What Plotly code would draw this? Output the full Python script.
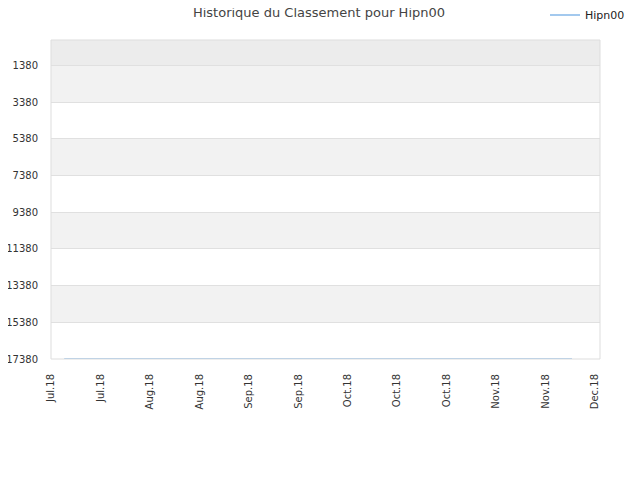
import plotly.graph_objects as go

# Data
dates = ["2018-07-07", "2018-07-21", "2018-08-04", "2018-08-18", "2018-09-01",
         "2018-09-15", "2018-09-29", "2018-10-13", "2018-10-27", "2018-11-10",
         "2018-11-24", "2018-12-08"]
ranks = [17380, 17380, 17380, 17380, 17380, 17380, 17380, 17380, 17380, 17380, 17380, 17380]

tick_dates = ["2018-07-03", "2018-07-18", "2018-08-02", "2018-08-17", "2018-09-01",
              "2018-09-16", "2018-10-01", "2018-10-16", "2018-10-31", "2018-11-15",
              "2018-11-30", "2018-12-15"]
tick_labels = ["Jul.18", "Jul.18", "Aug.18", "Aug.18", "Sep.18", "Sep.18",
               "Oct.18", "Oct.18", "Oct.18", "Nov.18", "Nov.18", "Dec.18"]
y_ticks = [1380, 3380, 5380, 7380, 9380, 11380, 13380, 15380, 17380]
band_edges = [0, 1380, 3380, 5380, 7380, 9380, 11380, 13380, 15380, 17380]
band_colors = ["#ececec", "#f2f2f2", "#ffffff", "#f2f2f2", "#ffffff",
               "#f2f2f2", "#ffffff", "#f2f2f2", "#ffffff"]

fig = go.Figure()
fig.add_trace(go.Scatter(x=dates, y=ranks, mode="lines", name="Hipn00",
                         line=dict(color="#a3c9ee", width=2), cliponaxis=False))

shapes = []
for i in range(len(band_colors)):
    shapes.append(dict(type="rect", xref="paper", yref="y", x0=0, x1=1,
                       y0=band_edges[i], y1=band_edges[i + 1],
                       fillcolor=band_colors[i], line=dict(width=0), layer="below"))
shapes.append(dict(type="rect", xref="paper", yref="paper", x0=0, x1=1, y0=0, y1=1,
                   line=dict(color="#dddddd", width=1), fillcolor="rgba(0,0,0,0)"))

fig.update_layout(
    width=640, height=480,
    margin=dict(l=43, r=48, t=32, b=129, autoexpand=False),
    paper_bgcolor="white", plot_bgcolor="white",
    title=dict(text="Historique du Classement pour Hipn00", x=311 / 640, xanchor="center",
               xref="container", yref="container", y=1 - 4 / 480, yanchor="middle",
               font=dict(family="DejaVu Sans", size=13, color="#444444")),
    font=dict(family="DejaVu Sans", size=11, color="#333333"),
    showlegend=True,
    legend=dict(xref="container", yref="container", x=537 / 640, y=1 - 7 / 480,
                xanchor="left", yanchor="middle", bgcolor="rgba(0,0,0,0)",
                itemwidth=30, font=dict(size=11, color="#222222")),
    shapes=shapes,
    xaxis=dict(type="date", range=["2018-07-03", "2018-12-16 12:00"],
               tickvals=tick_dates, ticktext=tick_labels, tickangle=-90,
               showgrid=False, zeroline=False, showline=False, automargin=False,
               ticks="outside", ticklen=10, tickcolor="rgba(0,0,0,0)",
               tickfont=dict(size=10, color="#333333")),
    yaxis=dict(range=[17380, 0], tickvals=y_ticks, ticktext=[str(v) for v in y_ticks],
               showgrid=True, gridcolor="#e0e0e0", zeroline=False, showline=False,
               automargin=False,
               ticks="outside", ticklen=10, tickcolor="rgba(0,0,0,0)",
               tickfont=dict(size=10, color="#333333")),
)

fig.write_html("out.html")
